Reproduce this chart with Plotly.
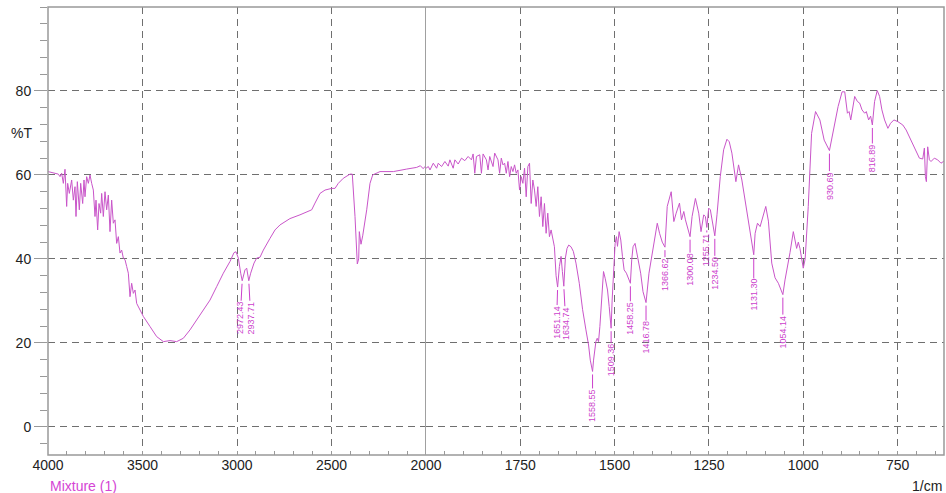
import plotly.graph_objects as go

# ---- data ----
wavenumber = [
    4000, 3980.6, 3962.9, 3945.3, 3936.5, 3927.7, 3918.8, 3910.0, 3901.2, 3895.9,
    3887.1, 3874.8, 3865.9, 3857.1, 3851.8, 3844.8, 3834.2, 3827.1, 3816.5, 3809.5,
    3804.2, 3795.4, 3786.5, 3777.7, 3768.9, 3760.1, 3751.3, 3746.0, 3737.2, 3730.1,
    3721.3, 3716.0, 3707.2, 3698.4, 3689.6, 3680.7, 3671.9, 3663.1, 3654.3, 3645.5,
    3636.6, 3627.8, 3619.0, 3610.2, 3601.4, 3592.5, 3583.7, 3574.9, 3566.1, 3557.3,
    3548.4, 3539.6, 3530.8, 3513.2, 3495.5, 3460.3, 3425.0, 3389.7, 3354.4, 3319.2,
    3283.9, 3248.6, 3213.4, 3178.1, 3142.8, 3107.5, 3072.3, 3037.0, 3015.8, 3005.2,
    2992.9, 2980.5, 2972.43, 2957.6, 2948.8, 2937.71, 2927.6, 2910.0, 2895.9, 2878.3,
    2860.6, 2825.4, 2798.9, 2772.4, 2720.0, 2666.7, 2631.2, 2604.7, 2587.3, 2560.8,
    2534.3, 2498.9, 2481.5, 2464.0, 2437.6, 2402.1, 2390.0, 2375.6, 2363.5, 2356.1,
    2352.8, 2343.9, 2335.0, 2313.7, 2296.3, 2282.0, 2243.4, 2172.8, 2102.1, 2049.1,
    2030.0, 2015.0, 2005.2, 2000,
    1993.8, 1989.4, 1980.7, 1971.9, 1967.5, 1958.7, 1949.9, 1941.1, 1936.7, 1927.9,
    1923.5, 1914.7, 1905.9, 1897.1, 1888.3, 1879.5, 1875.1, 1870.7, 1866.3, 1857.5,
    1853.1, 1848.7, 1839.9, 1835.5, 1831.1, 1822.3, 1817.9, 1809.2, 1804.8, 1800.4,
    1796.0, 1791.6, 1787.2, 1782.8, 1778.4, 1774.0, 1769.6, 1765.2, 1760.8, 1756.4,
    1752.0, 1747.6, 1743.2, 1738.8, 1734.4, 1730.0, 1725.6, 1721.2, 1716.8, 1712.4,
    1708.0, 1703.6, 1699.2, 1694.8, 1690.4, 1686.0, 1681.6, 1677.2, 1672.8, 1668.4,
    1664.0, 1659.6, 1655.2, 1651.14, 1646.4, 1642.0, 1638.5, 1634.74, 1630.6, 1626.2,
    1621.8, 1615.7, 1609.5, 1602.5, 1593.7, 1584.9, 1576.1, 1569.1, 1564.6, 1558.55,
    1555.9, 1552.3, 1549.7, 1546.2, 1542.7, 1539.1, 1533.9, 1529.5, 1525.1, 1518.9,
    1514.5, 1509.36, 1506.6, 1502.2, 1498.7, 1495.2, 1492.5, 1488.1, 1483.7, 1479.3,
    1474.9, 1468.8, 1463.5, 1458.25, 1454.7, 1451.2, 1445.9, 1439.8, 1431.0, 1424.8,
    1416.78, 1409.0, 1395.8, 1387.0, 1380.9, 1373.8, 1366.62, 1360.6, 1350.1, 1343.1,
    1336.9, 1328.1, 1322.8, 1316.7, 1312.3, 1300.08, 1294.7, 1285.9, 1277.1, 1271.0,
    1263.9, 1259.5, 1255.71, 1250.7, 1246.3, 1241.0, 1234.50, 1228.7, 1220.0, 1211.1,
    1202.3, 1196.2, 1189.2, 1178.6, 1171.6, 1162.8, 1154.0, 1145.2, 1131.30, 1127.6,
    1121.4, 1114.4, 1105.6, 1099.4, 1092.4, 1083.6, 1074.8, 1066.0, 1054.14, 1048.4,
    1035.2, 1026.4, 1017.6, 1013.2, 1008.8, 1000.0, 995.0, 986.8, 978.0, 967.5,
    956.0, 944.6, 930.69, 920.8, 907.7, 897.1, 890.1, 883.0, 878.6, 874.2,
    868.0, 863.7, 856.6, 850.5, 844.3, 837.3, 832.9, 826.8, 821.5, 816.89,
    811.0, 804.0, 797.7, 791.6, 784.5, 775.7, 768.7, 759.9, 749.4, 736.2,
    727.3, 714.2, 701.0, 692.2, 683.4, 679.0, 676.3, 673.7, 670.2, 665.8,
    661.4, 652.6, 643.8, 635.0, 627.0,
]
transmittance = [
    60.8, 60.55, 60.4, 60.2, 59.6, 60.4, 58.0, 61.35, 52.5, 58.0,
    55.6, 58.8, 54.0, 57.2, 50.1, 58.4, 51.7, 58.0, 53.2, 58.8,
    54.8, 59.6, 58.0, 60.0, 58.0, 56.4, 50.1, 54.0, 46.9, 53.2,
    50.9, 55.6, 50.1, 56.0, 51.7, 55.2, 46.5, 54.0, 48.5, 49.3,
    43.7, 45.3, 41.4, 42.1, 40.2, 39.8, 38.2, 36.6, 31.0, 34.2,
    31.8, 32.6, 29.4, 27.9, 26.3, 23.9, 21.5, 20.3, 20.55, 20.3,
    21.1, 23.1, 25.5, 27.9, 30.2, 33.4, 36.6, 39.4, 41.5, 41.7,
    40.2, 36.6, 34.8, 37.4, 37.8, 34.8, 36.6, 39.0, 40.2, 40.4,
    42.1, 44.9, 46.9, 48.1, 49.6, 50.5, 51.3, 51.7, 53.3, 55.6,
    56.4, 56.8, 56.8, 58.0, 59.2, 60.2, 60.2, 50.1, 38.8, 40.0,
    46.5, 43.5, 45.5, 51.7, 58.0, 60.0, 60.8, 60.8, 61.4, 61.8,
    62.2, 61.5, 62.0, 61.6,
    62.0, 61.2, 62.8, 61.6, 62.8, 62.0, 63.2, 62.1, 63.6, 61.6,
    63.6, 62.6, 64.0, 63.4, 64.4, 63.6, 65.0, 60.4, 64.4, 64.8,
    60.4, 65.0, 63.6, 61.2, 64.4, 62.0, 65.2, 63.6, 60.4, 64.0,
    62.4, 62.8, 60.4, 63.2, 59.6, 62.0, 60.8, 62.4, 60.4, 61.2,
    56.4, 59.6, 58.0, 61.6, 54.8, 62.0, 62.8, 53.2, 58.8, 56.4,
    52.5, 57.2, 50.1, 54.8, 47.7, 53.2, 46.1, 50.9, 45.3, 46.9,
    44.5, 42.9, 36.0, 33.3, 38.2, 40.6, 37.0, 33.5, 40.2, 42.5,
    43.3, 42.9, 41.8, 39.0, 34.2, 27.9, 23.1, 19.5, 15.9, 13.2,
    15.9, 19.1, 20.3, 21.1, 20.3, 23.9, 31.0, 37.0, 35.4, 32.6,
    28.7, 23.5, 30.2, 37.4, 43.7, 45.3, 43.0, 46.5, 44.5, 40.6,
    37.4, 36.6, 35.5, 34.2, 39.8, 42.9, 43.7, 40.6, 36.6, 32.2,
    29.6, 36.6, 43.7, 48.5, 46.1, 44.0, 42.8, 52.5, 56.0, 48.9,
    50.9, 53.3, 49.3, 51.3, 49.3, 45.3, 50.1, 54.4, 50.9, 46.5,
    50.5, 50.1, 47.5, 52.1, 51.7, 49.0, 45.5, 50.5, 59.6, 66.0,
    68.5, 67.9, 65.2, 58.4, 62.4, 58.8, 54.1, 48.5, 41.0, 46.1,
    48.5, 47.7, 50.5, 52.5, 49.0, 39.0, 35.5, 34.2, 31.5, 35.0,
    41.5, 46.5, 42.5, 44.0, 42.5, 37.8, 40.0, 52.5, 69.9, 75.1,
    73.1, 68.3, 65.8, 70.7, 76.3, 79.8, 79.8, 74.7, 75.1, 73.1,
    76.3, 78.7, 77.5, 77.1, 75.5, 74.7, 75.1, 73.1, 74.0, 71.9,
    77.5, 80.1, 78.7, 75.5, 73.1, 71.1, 72.3, 73.1, 72.7, 71.9,
    70.7, 68.3, 65.6, 64.0, 63.8, 66.4, 59.6, 58.4, 66.7, 63.6,
    63.2, 64.0, 63.6, 62.8, 63.3,
]
peak_wavenumbers = [2972.43, 2937.71, 1651.14, 1634.74, 1558.55, 1509.36, 1458.25,
                    1416.78, 1366.62, 1300.08, 1255.71, 1234.50, 1131.30, 1054.14,
                    930.69, 816.89]
left_ticks = [4000, 3500, 3000, 2500, 2000]
right_ticks = [1750, 1500, 1250, 1000, 750]
y_ticks = [0, 20, 40, 60, 80]

# ---- styles ----
BREAK = 2000
LINE_COLOR = "#c955c9"
LABEL_COLOR = "#cc3fcc"
GRID = "#6f6f6f"
FRAME = "#999999"
FONT = "Liberation Sans, Arial, sans-serif"
label_offset_px = [37, 37, 35, 37, 34, 32, 35, 35, 27, 33, 22, 37, 40, 37, 35, 33]
label_shift_px = [-2, 2, -1, 2, 0, 0, 0, 0, 0, 0, 0, 0, 0, 0, 0, 0]

left = [(w, t) for w, t in zip(wavenumber, transmittance) if w >= BREAK]
right = [(w, t) for w, t in zip(wavenumber, transmittance) if w <= BREAK]

fig = go.Figure()
fig.add_trace(go.Scatter(x=[p[0] for p in left], y=[p[1] for p in left],
                         xaxis="x", yaxis="y", mode="lines",
                         line=dict(color=LINE_COLOR, width=1)))
fig.add_trace(go.Scatter(x=[p[0] for p in right], y=[p[1] for p in right],
                         xaxis="x2", yaxis="y", mode="lines",
                         line=dict(color=LINE_COLOR, width=1)))

split = 378 / 896

axis_common = dict(showgrid=True, gridcolor=GRID, griddash="7px,5px", gridwidth=1,
                   zeroline=False, showline=False, ticks="inside", ticklen=4,
                   automargin=False,
                   tickcolor=FRAME, tickfont=dict(family=FONT, size=14, color="#222"))

fig.update_layout(
    width=946, height=493, autosize=False,
    margin=dict(l=48, r=2, t=7, b=38),
    plot_bgcolor="white", paper_bgcolor="white",
    showlegend=False,
    xaxis=dict(domain=[0, split], range=[4000, BREAK], anchor="y",
               tickmode="array", tickvals=left_ticks,
               minor=dict(tickmode="linear", tick0=0, dtick=100, ticks="inside",
                          ticklen=4, tickcolor=FRAME, showgrid=False),
               **axis_common),
    xaxis2=dict(domain=[split, 1], range=[BREAK, 627], anchor="y",
                tickmode="array", tickvals=right_ticks,
                minor=dict(tickmode="linear", tick0=0, dtick=50, ticks="inside",
                           ticklen=4, tickcolor=FRAME, showgrid=False),
                **axis_common),
    yaxis=dict(range=[-6.7, 100], anchor="x", tickmode="array", tickvals=y_ticks,
               showgrid=True, gridcolor=GRID, griddash="7px,5px", gridwidth=1,
               zeroline=False, showline=False, ticks="outside", ticklen=13,
               tickcolor=FRAME, automargin=False,
               minor=dict(tickmode="linear", tick0=0, dtick=4, ticks="outside",
                          ticklen=7, tickcolor=FRAME, showgrid=False),
               tickfont=dict(family=FONT, size=14, color="#222")),
)

# frame and the solid break line at 2000
fig.add_shape(type="rect", xref="paper", yref="paper", x0=0, x1=1, y0=0, y1=1,
              line=dict(color=FRAME, width=1.5), layer="above")
fig.add_shape(type="line", xref="x", yref="y domain", x0=BREAK, x1=BREAK, y0=0, y1=1,
              line=dict(color="#a0a0a0", width=2), layer="above")

# peak labels
T_of = dict(zip(wavenumber, transmittance))
for w, ay, ax in zip(peak_wavenumbers, label_offset_px, label_shift_px):
    fig.add_annotation(x=w, y=T_of[w], xref="x" if w >= BREAK else "x2", yref="y",
                       text=f"{w:.2f}", textangle=-90, showarrow=True, arrowhead=0,
                       arrowwidth=1, arrowcolor=LABEL_COLOR, ax=ax, ay=ay, standoff=3,
                       borderpad=0, font=dict(family=FONT, size=9, color=LABEL_COLOR))

# axis captions
fig.add_annotation(text="%T", xref="paper", yref="y", x=0, y=70, xanchor="right",
                   xshift=-14, showarrow=False, font=dict(family=FONT, size=14, color="#222"))
fig.add_annotation(text="Mixture (1)", xref="paper", yref="paper", x=0, y=0,
                   xanchor="left", yanchor="top", yshift=-21, showarrow=False,
                   font=dict(family=FONT, size=14, color="#d545d5"))
fig.add_annotation(text="1/cm", xref="paper", yref="paper", x=1, y=0,
                   xanchor="right", yanchor="top", yshift=-21, showarrow=False,
                   font=dict(family=FONT, size=14, color="#222"))

fig.write_html(
    "out.html",
    config={"responsive": False, "displayModeBar": False},
    post_script="document.body.style.margin='0';document.documentElement.style.overflow='hidden';",
)
